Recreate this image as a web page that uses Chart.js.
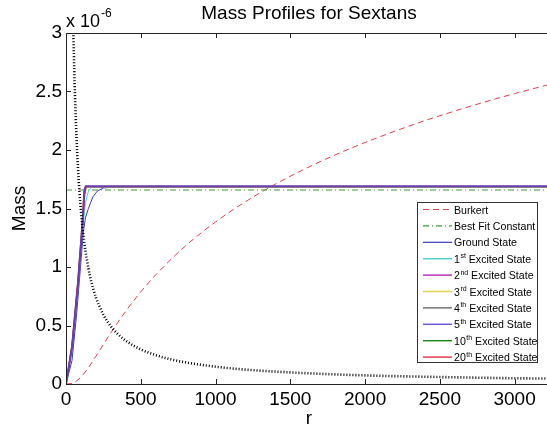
<!DOCTYPE html>
<html>
<head>
<meta charset="utf-8">
<script src="https://cdn.jsdelivr.net/npm/chart.js@4/dist/chart.umd.min.js"></script>
<style>
  html, body { margin: 0; padding: 0; background: #fff; overflow: hidden; }
  #wrap { width: 547px; height: 428px; overflow: hidden; }
</style>
</head>
<body>
<div id="wrap"><canvas id="graph" width="560" height="428"></canvas></div>
<script>
// values in units of 1e-6
const xTicks = [0, 500, 1000, 1500, 2000, 2500, 3000];
const yTicks = [0, 0.5, 1, 1.5, 2, 2.5, 3];

const rBurkert = [0, 50, 100, 150, 200, 300, 400, 500, 600, 800, 1000, 1200, 1400, 1600, 1800, 2000, 2200, 2400, 2600, 2800, 3000, 3250];
const mBurkert = [0, 0.010, 0.059, 0.140, 0.237, 0.437, 0.623, 0.787, 0.933, 1.181, 1.385, 1.558, 1.708, 1.840, 1.958, 2.064, 2.161, 2.251, 2.333, 2.410, 2.482, 2.566];

const rConst = [0, 3250];
const mConst = [1.658, 1.658];

const rDotted = [45, 50, 55, 60, 70, 80, 90, 100, 120, 140, 160, 180, 200, 250, 300, 350, 400, 500, 600, 700, 800, 1000, 1200, 1500, 1800, 2100, 2400, 2700, 3000, 3250];
const mDotted = [3.29, 2.96, 2.69, 2.47, 2.11, 1.85, 1.64, 1.48, 1.23, 1.06, 0.925, 0.822, 0.74, 0.592, 0.493, 0.423, 0.37, 0.296, 0.247, 0.211, 0.185, 0.148, 0.123, 0.099, 0.082, 0.07, 0.062, 0.055, 0.049, 0.046];

const rGround = [0, 40, 70, 100, 116, 130, 150, 180, 210, 250, 300, 3250];
const mGround = [0, 0.2, 0.58, 1.05, 1.3, 1.42, 1.5, 1.6, 1.65, 1.675, 1.682, 1.682];
const r1st = [0, 40, 80, 110, 130, 150, 170, 3250];
const m1st = [0, 0.3, 0.82, 1.3, 1.55, 1.65, 1.68, 1.68];
const r2nd = [0, 40, 80, 110, 125, 135, 3250];
const m2nd = [0, 0.32, 0.85, 1.35, 1.62, 1.685, 1.687];
const r3rd = [0, 40, 80, 110, 125, 140, 3250];
const m3rd = [0, 0.35, 0.88, 1.38, 1.63, 1.684, 1.684];
const r4th = [0, 40, 80, 110, 124, 135, 3250];
const m4th = [0, 0.3, 0.84, 1.34, 1.62, 1.686, 1.686];
const r5th = [0, 40, 80, 110, 123, 132, 3250];
const m5th = [0, 0.31, 0.86, 1.37, 1.64, 1.69, 1.69];
const r10th = [0, 40, 80, 110, 122, 130, 3250];
const m10th = [0, 0.33, 0.87, 1.39, 1.65, 1.688, 1.688];
const r20th = [0, 40, 80, 110, 120, 128, 3250];
const m20th = [0, 0.34, 0.9, 1.42, 1.66, 1.688, 1.688];

const FONT = '"Liberation Sans", Arial, sans-serif';

function pts(xs, ys) {
    return xs.map((x, i) => ({ x: x, y: ys[i] }));
}

// legend entries: [text, superscript, rest, color, dash, width]
const legendItems = [
    ['Burkert', '', '', '#e04050', [6, 4], 1.2],
    ['Best Fit Constant', '', '', '#3c9a3c', [6, 3, 1, 3], 1.2],
    ['Ground State', '', '', '#3a3ac0', [], 1.2],
    ['1', 'st', ' Excited State', '#50d0d0', [], 1.5],
    ['2', 'nd', ' Excited State', '#c030c0', [], 1.5],
    ['3', 'rd', ' Excited State', '#e0d050', [], 1.5],
    ['4', 'th', ' Excited State', '#505050', [], 1.2],
    ['5', 'th', ' Excited State', '#6a5ad8', [], 1.5],
    ['10', 'th', ' Excited State', '#208a20', [], 1.5],
    ['20', 'th', ' Excited State', '#e04050', [], 1.5]
];

function line(label, data, color, width, dash, order, tension) {
    return {
        label: label,
        data: data,
        borderColor: color,
        borderWidth: width,
        borderDash: dash,
        pointRadius: 0,
        fill: false,
        tension: tension || 0,
        cubicInterpolationMode: tension ? 'monotone' : 'default',
        order: order
    };
}

const datasets = [
    line('Burkert', pts(rBurkert, mBurkert), '#e04050', 1, [6, 4], 12, 0.4),
    line('Best Fit Constant', pts(rConst, mConst), '#3c9a3c', 1, [6, 3, 1, 3], 11),
    line('Ground State', pts(rGround, mGround), '#3a3ac0', 1, [], 10),
    line('1st', pts(r1st, m1st), '#50d0d0', 1, [], 9),
    line('2nd', pts(r2nd, m2nd), '#c030c0', 1.2, [], 8),
    line('3rd', pts(r3rd, m3rd), '#e0d050', 1, [], 7),
    line('4th', pts(r4th, m4th), '#505050', 1, [], 6),
    line('5th', pts(r5th, m5th), '#6a3ab0', 2, [], 3),
    line('10th', pts(r10th, m10th), '#208a20', 1, [], 5),
    line('20th', pts(r20th, m20th), '#e04050', 1, [], 4),
    line('dotted', pts(rDotted, mDotted), '#000000', 2.6, [1, 2], 1, 0.4)
];

const framePlugin = {
    id: 'frame',
    afterDatasetsDraw(chart) {
        const ctx = chart.ctx;
        const a = chart.chartArea;
        const xs = chart.scales.x, ys = chart.scales.y;
        ctx.save();
        ctx.strokeStyle = '#222';
        ctx.lineWidth = 1;
        ctx.setLineDash([]);
        ctx.beginPath();
        ctx.rect(Math.round(a.left) + 0.5, Math.round(a.top) + 0.5, Math.round(a.right - a.left), Math.round(a.bottom - a.top));
        ctx.stroke();
        ctx.beginPath();
        xTicks.forEach(v => {
            const px = Math.round(xs.getPixelForValue(v)) + 0.5;
            ctx.moveTo(px, a.bottom); ctx.lineTo(px, a.bottom - 5);
            ctx.moveTo(px, a.top); ctx.lineTo(px, a.top + 5);
        });
        yTicks.forEach(v => {
            const py = Math.round(ys.getPixelForValue(v)) + 0.5;
            ctx.moveTo(a.left, py); ctx.lineTo(a.left + 5, py);
            ctx.moveTo(a.right, py); ctx.lineTo(a.right - 5, py);
        });
        ctx.stroke();

        // legend
        const lx = 417, ly = 202, lw = 120, lh = 160;
        ctx.fillStyle = '#fff';
        ctx.fillRect(lx, ly, lw, lh);
        ctx.strokeStyle = '#333';
        ctx.lineWidth = 1;
        ctx.strokeRect(lx + 0.5, ly + 0.5, lw, lh);
        for (let i = 0; i < legendItems.length; i++) {
            const it = legendItems[i];
            const cy = 209.5 + i * 16.4;
            ctx.beginPath();
            ctx.strokeStyle = it[3];
            ctx.lineWidth = it[5];
            ctx.setLineDash(it[4]);
            ctx.moveTo(423, cy);
            ctx.lineTo(452, cy);
            ctx.stroke();
            ctx.setLineDash([]);
            ctx.fillStyle = '#000';
            ctx.textBaseline = 'alphabetic';
            ctx.textAlign = 'left';
            ctx.font = '10.6px ' + FONT;
            let x = 454;
            ctx.fillText(it[0], x, cy + 4);
            x += ctx.measureText(it[0]).width;
            if (it[1]) {
                ctx.font = '7px ' + FONT;
                ctx.fillText(it[1], x + 0.5, cy - 0.5);
                x += ctx.measureText(it[1]).width + 0.5;
                ctx.font = '10.6px ' + FONT;
                ctx.fillText(it[2], x, cy + 4);
            }
        }

        // title and axis labels
        ctx.fillStyle = '#000';
        ctx.textAlign = 'center';
        ctx.textBaseline = 'alphabetic';
        ctx.font = '19px ' + FONT;
        ctx.fillText('Mass Profiles for Sextans', (a.left + a.right) / 2, 19);
        ctx.fillText('r', (a.left + a.right) / 2, 424);
        ctx.save();
        ctx.translate(25, (a.top + a.bottom) / 2);
        ctx.rotate(-Math.PI / 2);
        ctx.fillText('Mass', 0, 0);
        ctx.restore();
        ctx.textAlign = 'left';
        ctx.font = '18px ' + FONT;
        ctx.fillText('x 10', 66, 27);
        ctx.font = '12px ' + FONT;
        ctx.fillText('-6', 101, 17);
        ctx.restore();
    }
};

const chart = new Chart(document.getElementById('graph').getContext('2d'), {
    type: 'line',
    data: { datasets: datasets },
    options: {
        responsive: false,
        animation: false,
        devicePixelRatio: 1,
        layout: { padding: { left: 0, top: 33, right: 8, bottom: 0 } },
        plugins: { legend: { display: false }, tooltip: { enabled: false } },
        scales: {
            x: {
                type: 'linear',
                min: 0,
                max: 3250,
                grid: { display: false },
                border: { display: false },
                afterBuildTicks: s => { s.ticks = xTicks.map(v => ({ value: v })); },
                afterFit: s => { s.height = 44; },
                ticks: { color: '#000', font: { size: 19, family: FONT }, padding: -4, maxRotation: 0, autoSkip: false, callback: v => String(v) }
            },
            y: {
                type: 'linear',
                min: 0,
                max: 3,
                grid: { display: false },
                border: { display: false },
                afterBuildTicks: s => { s.ticks = yTicks.map(v => ({ value: v })); },
                afterFit: s => { s.width = 66; },
                ticks: { color: '#000', font: { size: 19, family: FONT }, padding: -4, callback: v => String(v) }
            }
        }
    },
    plugins: [framePlugin]
});
</script>
</body>
</html>
